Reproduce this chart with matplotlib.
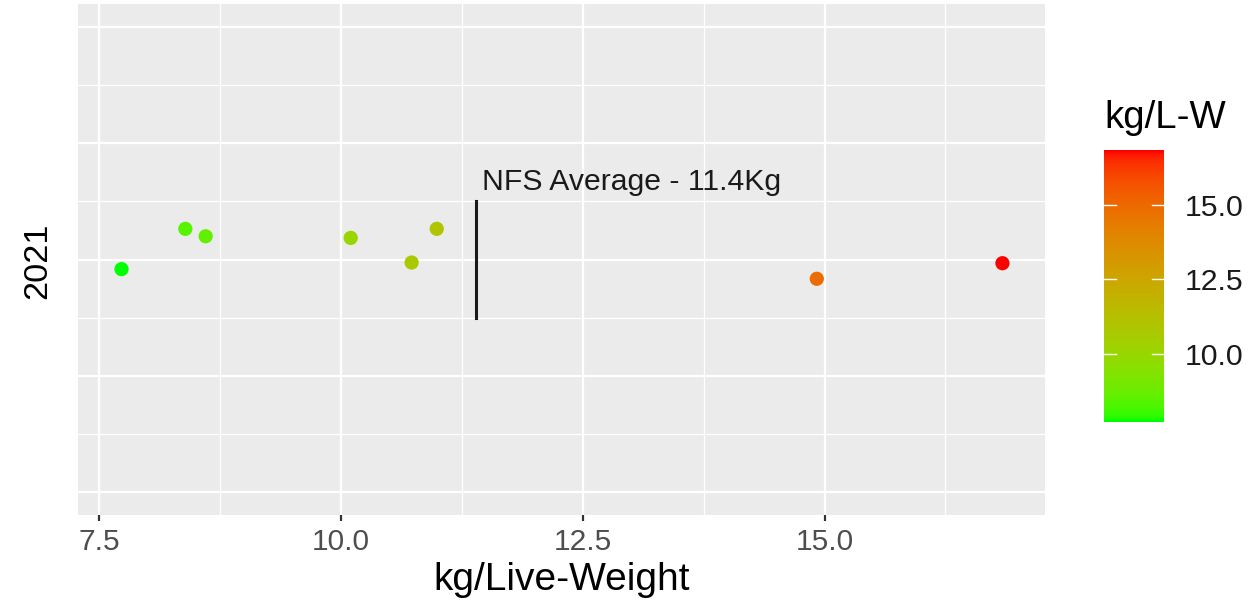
import numpy as np
import matplotlib
matplotlib.use("Agg")
import matplotlib.pyplot as plt
from matplotlib.colors import ListedColormap, Normalize

# ---- data ----
kg_live_weight = [7.73, 8.39, 8.60, 10.10, 10.73, 10.99, 14.92, 16.84]
jitter_y = [-0.083, 0.264, 0.200, 0.186, -0.026, 0.264, -0.166, -0.032]
year_label = "2021"
nfs_average = 11.4
nfs_text = "NFS Average - 11.4Kg"
x_ticks = [7.5, 10.0, 12.5, 15.0]
cbar_ticks = [10.0, 12.5, 15.0]

FONT = ["Liberation Sans", "DejaVu Sans"]
plt.rcParams['font.family'] = FONT

# ---- Lab gradient green -> red (ggplot scale_colour_gradient style) ----
_M = np.array([[0.4124564, 0.3575761, 0.1804375],
               [0.2126729, 0.7151522, 0.0721750],
               [0.0193339, 0.1191920, 0.9503041]])
_W = np.array([0.95047, 1.0, 1.08883])

def srgb_to_lab(c):
    c = np.asarray(c, float)
    lin = np.where(c <= 0.04045, c / 12.92, ((c + 0.055) / 1.055) ** 2.4)
    xyz = _M @ lin / _W
    e = 216 / 24389; k = 24389 / 27
    f = np.where(xyz > e, np.cbrt(xyz), (k * xyz + 16) / 116)
    return np.array([116 * f[1] - 16, 500 * (f[0] - f[1]), 200 * (f[1] - f[2])])

def lab_to_srgb(lab):
    L, a, b = lab
    fy = (L + 16) / 116; fx = fy + a / 500; fz = fy - b / 200
    e = 216 / 24389; k = 24389 / 27
    def finv(f):
        return f ** 3 if f ** 3 > e else (116 * f - 16) / k
    xyz = np.array([finv(fx), (fy ** 3 if L > k * e else L / k), finv(fz)]) * _W
    lin = np.linalg.solve(_M, xyz)
    lin = np.clip(lin, 0, 1)
    c = np.where(lin <= 0.0031308, 12.92 * lin, 1.055 * lin ** (1 / 2.4) - 0.055)
    return np.clip(c, 0, 1)

lo, hi = srgb_to_lab([0, 1, 0]), srgb_to_lab([1, 0, 0])
cols = [lab_to_srgb(lo + t * (hi - lo)) for t in np.linspace(0, 1, 256)]
cmap = ListedColormap(cols)
vmin, vmax = min(kg_live_weight), max(kg_live_weight)
norm = Normalize(vmin, vmax)

# ---- figure ----
W, H = 1255, 603
fig = plt.figure(figsize=(W / 100, H / 100), dpi=100)
ax = fig.add_axes([78 / W, 1 - 515 / H, (1045 - 78) / W, (515 - 4) / H])
ax.set_facecolor("#EBEBEB")
for s in ax.spines.values():
    s.set_visible(False)

ax.set_xlim(7.28, 17.28)
ax.set_ylim(-2.2, 2.2)
ax.set_xticks(x_ticks)
ax.set_xticklabels([f"{t:.1f}" for t in x_ticks])
ax.set_xticks([8.75, 11.25, 13.75, 16.25], minor=True)
ax.set_yticks([-2, -1, 0, 1, 2])
ax.set_yticks([-1.5, -0.5, 0.5, 1.5], minor=True)
ax.tick_params(axis="y", which="both", length=0, labelleft=False)
ax.tick_params(axis="x", which="major", length=4.5, width=1.6, color="#333333",
               labelsize=21.5, labelcolor="#4D4D4D", pad=5)
ax.tick_params(axis="x", which="minor", length=0)
ax.grid(which="major", color="white", lw=1.6)
ax.grid(which="minor", color="white", lw=0.9)
ax.set_axisbelow(True)

ax.scatter(kg_live_weight, jitter_y, c=kg_live_weight, cmap=cmap, norm=norm,
           s=105, linewidths=0, zorder=3)
ax.plot([nfs_average, nfs_average], [-0.5, 0.5], color="#1A1A1A", lw=2.2, zorder=3)
ax.text(nfs_average + 0.06, 0.6, nfs_text, fontsize=21.7, color="#1A1A1A",
        ha="left", va="baseline")

ax.set_xlabel("kg/Live-Weight", fontsize=28, color="black", labelpad=4)
fig.text(38 / W, 1 - 261 / H, year_label, rotation=90, fontsize=24.7,
         ha="center", va="center", color="black")

# ---- colourbar ----
cax = fig.add_axes([1104 / W, 1 - 421.7 / H, 60 / W, 271.7 / H])
grad = np.linspace(vmin, vmax, 300).reshape(-1, 1)
cax.imshow(grad, cmap=cmap, norm=norm, aspect="auto", origin="lower",
           extent=[0, 1, vmin, vmax])
cax.set_xlim(0, 1)
cax.set_ylim(vmin, vmax)
for s in cax.spines.values():
    s.set_visible(False)
cax.set_xticks([])
for t in cbar_ticks:
    cax.plot([0, 0.2], [t, t], color="white", lw=1.0)
    cax.plot([0.8, 1], [t, t], color="white", lw=1.0)
cax.yaxis.tick_right()
cax.set_yticks(cbar_ticks)
cax.set_yticklabels([f"{t:.1f}" for t in cbar_ticks])
cax.tick_params(axis="y", length=0, pad=15, labelsize=21.8, labelcolor="#1A1A1A")
fig.text(1104 / W, 1 - 128 / H, "kg/L-W", fontsize=27.6, ha="left",
         va="baseline", color="black")

fig.savefig("out.png", dpi=100)
